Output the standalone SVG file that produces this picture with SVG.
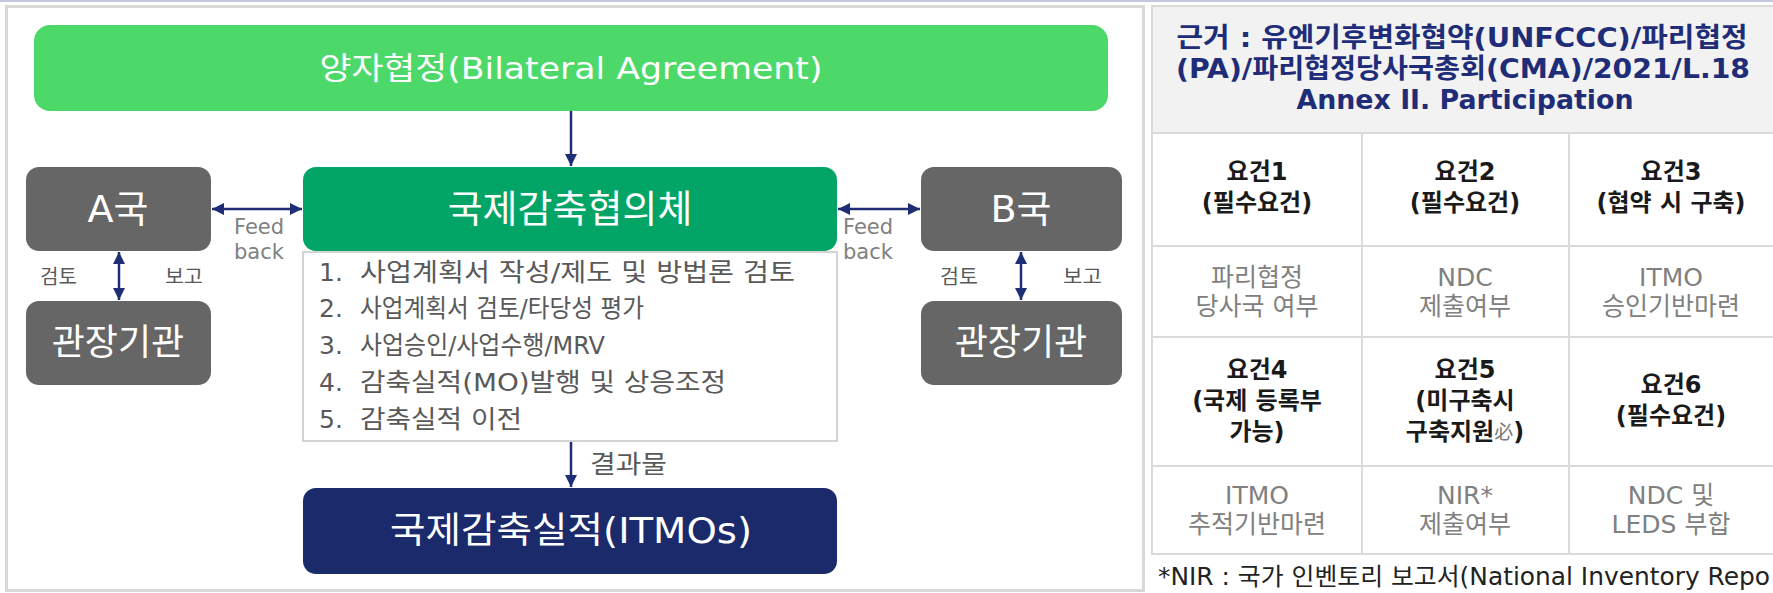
<svg xmlns="http://www.w3.org/2000/svg" width="1773" height="593" viewBox="0 0 1773 593">
<style>
text{font-family:"DejaVu Sans","Noto Sans CJK KR",sans-serif;}
.wt{fill:#ffffff;text-anchor:middle;dominant-baseline:central;}
.lst{fill:#595959;font-size:25px;dominant-baseline:central;}
.sm{fill:#595959;font-size:20px;dominant-baseline:central;}
.fb{fill:#808080;font-size:21px;}
.hd{fill:#1f2d78;font-size:27px;font-weight:700;text-anchor:middle;dominant-baseline:central;}
.bd{fill:#1a1a1a;font-size:24px;font-weight:700;text-anchor:middle;dominant-baseline:central;}
.gy{fill:#808080;font-size:25px;text-anchor:middle;dominant-baseline:central;}
.gl{stroke:#dadada;stroke-width:2;fill:none;}
.cn{stroke:#1f2d74;stroke-width:2.5;fill:none;}
</style>
<defs>
<marker id="ah" viewBox="0 0 10 10" refX="10" refY="5" markerWidth="12" markerHeight="12" markerUnits="userSpaceOnUse" orient="auto-start-reverse">
<path d="M0,0 L10,5 L0,10 z" fill="#1f2d74"/>
</marker>
</defs>
<rect x="0" y="0" width="1773" height="593" fill="#ffffff"/>
<rect x="0" y="0" width="1773" height="2" fill="#c3c8de"/>
<rect id="left-panel" x="6.5" y="6.5" width="1137" height="584" fill="#ffffff" stroke="#d8d8d8" stroke-width="3"/>

<g id="bilateral">
<rect x="34" y="25" width="1074" height="86" rx="16" fill="#4cd96a"/>
<text class="wt" x="571" y="68" font-size="31" textLength="503" lengthAdjust="spacingAndGlyphs">양자협정(Bilateral Agreement)</text>
</g>
<g id="council">
<rect x="303" y="167" width="534" height="84" rx="13" fill="#02a566"/>
<text class="wt" x="570" y="209" font-size="38">국제감축협의체</text>
</g>
<g id="countryA">
<rect x="26" y="167" width="185" height="84" rx="13" fill="#666666"/>
<text class="wt" x="118" y="209" font-size="38">A국</text>
</g>
<g id="countryB">
<rect x="921" y="167" width="201" height="84" rx="13" fill="#666666"/>
<text class="wt" x="1021" y="209" font-size="38">B국</text>
</g>
<g id="agencyA">
<rect x="26" y="301" width="185" height="84" rx="13" fill="#666666"/>
<text class="wt" x="118" y="342" font-size="36">관장기관</text>
</g>
<g id="agencyB">
<rect x="921" y="301" width="201" height="84" rx="13" fill="#666666"/>
<text class="wt" x="1021" y="342" font-size="36">관장기관</text>
</g>
<g id="process-list">
<rect x="303" y="252" width="534" height="189" fill="#ffffff" stroke="#d4d4d4" stroke-width="2"/>
<text class="lst" x="319" y="272">1.</text><text class="lst" x="360" y="272" textLength="435" lengthAdjust="spacingAndGlyphs">사업계획서 작성/제도 및 방법론 검토</text>
<text class="lst" x="319" y="308">2.</text><text class="lst" x="360" y="308" textLength="284" lengthAdjust="spacingAndGlyphs">사업계획서 검토/타당성 평가</text>
<text class="lst" x="319" y="345">3.</text><text class="lst" x="360" y="345" textLength="245" lengthAdjust="spacingAndGlyphs">사업승인/사업수행/MRV</text>
<text class="lst" x="319" y="382">4.</text><text class="lst" x="360" y="382" textLength="366" lengthAdjust="spacingAndGlyphs">감축실적(MO)발행 및 상응조정</text>
<text class="lst" x="319" y="419">5.</text><text class="lst" x="360" y="419" textLength="162" lengthAdjust="spacingAndGlyphs">감축실적 이전</text>
</g>
<g id="itmos">
<rect x="303" y="488" width="534" height="86" rx="13" fill="#1b2a6b"/>
<text class="wt" x="571" y="530" font-size="36" textLength="362" lengthAdjust="spacingAndGlyphs">국제감축실적(ITMOs)</text>
</g>

<g id="connectors">
<line class="cn" x1="571" y1="111" x2="571" y2="166" marker-end="url(#ah)"/>
<line class="cn" x1="212" y1="209" x2="302" y2="209" marker-start="url(#ah)" marker-end="url(#ah)"/>
<line class="cn" x1="838" y1="209" x2="920" y2="209" marker-start="url(#ah)" marker-end="url(#ah)"/>
<line class="cn" x1="119" y1="252" x2="119" y2="300" marker-start="url(#ah)" marker-end="url(#ah)"/>
<line class="cn" x1="1021" y1="252" x2="1021" y2="300" marker-start="url(#ah)" marker-end="url(#ah)"/>
<line class="cn" x1="571" y1="442" x2="571" y2="487" marker-end="url(#ah)"/>
<text class="fb" x="234" y="234">Feed<tspan x="234" dy="25">back</tspan></text>
<text class="fb" x="843" y="234">Feed<tspan x="843" dy="25">back</tspan></text>
<text class="sm" x="40" y="277" textLength="37" lengthAdjust="spacingAndGlyphs">검토</text><text class="sm" x="165" y="277" textLength="38" lengthAdjust="spacingAndGlyphs">보고</text>
<text class="sm" x="940" y="277" textLength="38" lengthAdjust="spacingAndGlyphs">검토</text><text class="sm" x="1063" y="277" textLength="39" lengthAdjust="spacingAndGlyphs">보고</text>
<text class="lst" x="590" y="464" textLength="77" lengthAdjust="spacingAndGlyphs">결과물</text>
</g>

<g id="requirements-table">
<rect x="1152" y="6" width="630" height="127" fill="#f2f2f2"/>
<rect x="1152" y="6" width="630" height="548" class="gl"/>
<line class="gl" x1="1152" y1="133" x2="1773" y2="133"/>
<line class="gl" x1="1152" y1="246" x2="1773" y2="246"/>
<line class="gl" x1="1152" y1="337" x2="1773" y2="337"/>
<line class="gl" x1="1152" y1="466" x2="1773" y2="466"/>
<line class="gl" x1="1362" y1="133" x2="1362" y2="554"/>
<line class="gl" x1="1569" y1="133" x2="1569" y2="554"/>
<text class="hd" x="1462" y="37" textLength="571" lengthAdjust="spacingAndGlyphs">근거 : 유엔기후변화협약(UNFCCC)/파리협정</text>
<text class="hd" x="1463" y="68" textLength="574" lengthAdjust="spacingAndGlyphs">(PA)/파리협정당사국총회(CMA)/2021/L.18</text>
<text class="hd" x="1465" y="99" textLength="337" lengthAdjust="spacingAndGlyphs">Annex II. Participation</text>

<text class="bd" x="1257" y="172">요건1<tspan x="1257" dy="31">(필수요건)</tspan></text>
<text class="bd" x="1465" y="172">요건2<tspan x="1465" dy="31">(필수요건)</tspan></text>
<text class="bd" x="1671" y="172">요건3<tspan x="1671" dy="31">(협약 시 구축)</tspan></text>

<text class="gy" x="1257" y="277">파리협정<tspan x="1257" dy="29">당사국 여부</tspan></text>
<text class="gy" x="1465" y="277">NDC<tspan x="1465" dy="29">제출여부</tspan></text>
<text class="gy" x="1671" y="277">ITMO<tspan x="1671" dy="29">승인기반마련</tspan></text>

<text class="bd" x="1257" y="370">요건4<tspan x="1257" dy="31">(국제 등록부</tspan><tspan x="1257" dy="31">가능)</tspan></text>
<text class="bd" x="1465" y="370">요건5<tspan x="1465" dy="31">(미구축시</tspan><tspan x="1465" dy="31">구축지원</tspan><tspan font-weight="400" fill="#777777" font-size="19">必</tspan><tspan>)</tspan></text>
<text class="bd" x="1671" y="385">요건6<tspan x="1671" dy="31">(필수요건)</tspan></text>

<text class="gy" x="1257" y="495">ITMO<tspan x="1257" dy="29">추적기반마련</tspan></text>
<text class="gy" x="1465" y="495">NIR*<tspan x="1465" dy="29">제출여부</tspan></text>
<text class="gy" x="1671" y="495">NDC 및<tspan x="1671" dy="29">LEDS 부합</tspan></text>

<text x="1158" y="577" font-size="24" fill="#222222" dominant-baseline="central" textLength="612" lengthAdjust="spacingAndGlyphs">*NIR : 국가 인벤토리 보고서(National Inventory Repo</text>
</g>
</svg>
